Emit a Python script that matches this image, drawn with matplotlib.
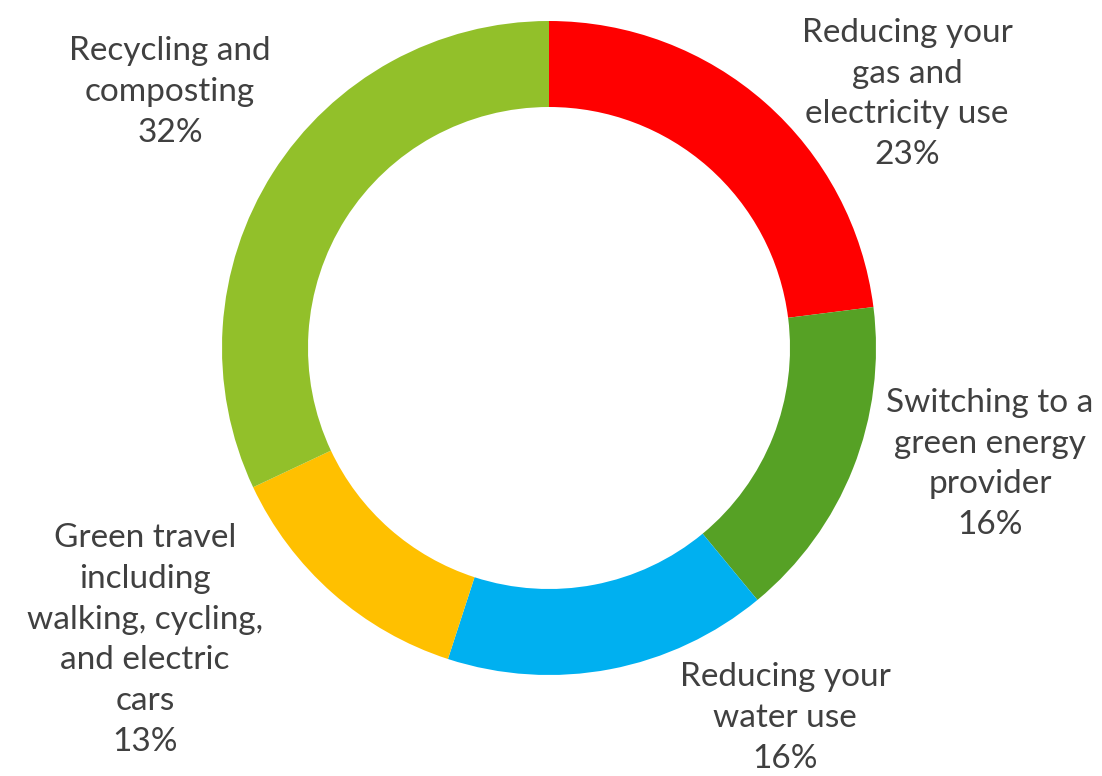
import matplotlib.pyplot as plt

labels = [
    "Reducing your\ngas and\nelectricity use",
    "Switching to a\ngreen energy\nprovider",
    "Reducing your\nwater use",
    "Green travel\nincluding\nwalking, cycling,\nand electric\ncars",
    "Recycling and\ncomposting",
]
values = [23, 16, 16, 13, 32]
colors = ["#FF0000", "#56A125", "#00B0F0", "#FFC000", "#92C02A"]

# label centres in pixels of the 1102x776 picture
label_px = [(907, 94), (990, 464), (785, 718), (145, 640), (170, 92)]

W, H = 1102, 776
cx, cy, R = 549, 348, 327

fig = plt.figure(figsize=(W / 100, H / 100), dpi=100)
ax = fig.add_axes([0, 0, 1, 1])
ax.pie(values, colors=colors, startangle=90, counterclock=False,
       radius=1, wedgeprops=dict(width=0.263, linewidth=0))
ax.set_aspect("auto")
ax.set_xlim(-cx / R, (W - cx) / R)
ax.set_ylim(-(H - cy) / R, cy / R)
ax.axis("off")

for lab, v, (px, py) in zip(labels, values, label_px):
    ax.text((px - cx) / R, (cy - py) / R, f"{lab}\n{v}%",
            ha="center", va="center", ma="center", fontsize=24,
            color="#404040", family="Lato", linespacing=1.45)

fig.savefig("out.png", dpi=100)
